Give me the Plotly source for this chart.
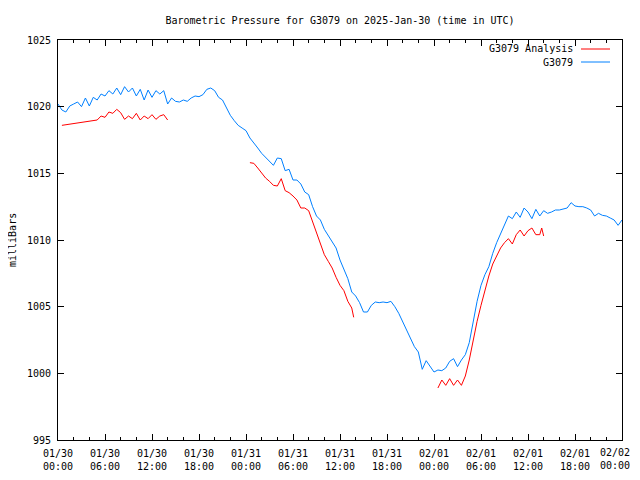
import plotly.graph_objects as go

# ---------------- data ----------------
blue_hours = [i * 0.5 for i in range(145)]
blue_values = [
    1020.2, 1019.75, 1019.6, 1020.05, 1020.2, 1020.35, 1020.0, 1020.65, 1020.05, 1020.7,
    1020.5, 1020.95, 1020.8, 1021.2, 1020.95, 1021.4, 1020.9, 1021.5, 1021.1, 1021.4,
    1020.8, 1021.3, 1020.5, 1021.25, 1020.7, 1021.2, 1020.95, 1021.2, 1020.2, 1020.65,
    1020.4, 1020.35, 1020.5, 1020.4, 1020.65, 1020.8, 1020.75, 1020.9, 1021.3, 1021.4,
    1021.2, 1020.7, 1020.5, 1019.9, 1019.35, 1018.95, 1018.6, 1018.4, 1018.2, 1017.65,
    1017.3, 1016.9, 1016.5, 1016.2, 1015.9, 1015.6, 1016.15, 1016.1, 1015.2, 1015.3,
    1014.5, 1014.5, 1014.2, 1013.6, 1013.4, 1012.5, 1011.8, 1011.5, 1010.8, 1010.3,
    1009.8, 1009.4, 1008.5, 1007.8, 1007.1, 1006.1, 1005.8, 1005.3, 1004.6, 1004.6,
    1005.1, 1005.35, 1005.3, 1005.35, 1005.3, 1005.4, 1005.0, 1004.5, 1003.9, 1003.2,
    1002.6, 1002.0, 1001.6, 1000.3, 1000.95, 1000.5, 1000.1, 1000.25, 1000.2, 1000.4,
    1000.9, 1001.1, 1000.5, 1001.0, 1001.4, 1002.3, 1003.8, 1005.4, 1006.6, 1007.4,
    1008.0, 1009.0, 1009.8, 1010.5, 1011.1, 1011.8, 1011.6, 1012.1, 1011.7, 1012.4,
    1012.1, 1011.6, 1012.3, 1011.8, 1012.2, 1012.0, 1012.1, 1012.25, 1012.25, 1012.3,
    1012.4, 1012.8, 1012.55, 1012.5, 1012.5, 1012.4, 1012.25, 1011.8, 1012.0, 1011.85,
    1011.8, 1011.65, 1011.5, 1011.1, 1011.5,
]

red_hours_1 = [0.5, 1, 1.5, 2, 2.5, 3, 3.5, 4, 4.5, 5, 5.5, 6, 6.5, 7, 7.5, 8, 8.5, 9,
               9.5, 10, 10.5, 11, 11.5, 12, 12.5, 13, 13.5, 14]
red_values_1 = [1018.6, 1018.65, 1018.7, 1018.75, 1018.8, 1018.8, 1018.85, 1018.9, 1018.95, 1019.0,
                1019.3, 1019.2, 1019.6, 1019.5, 1019.8, 1019.55, 1019.05, 1019.3, 1019.1, 1019.5,
                1019.0, 1019.3, 1019.1, 1019.4, 1019.05, 1019.3, 1019.4, 1019.0]

red_hours_2 = [24.5, 25, 25.5, 26, 26.5, 27, 27.5, 28, 28.5, 29, 29.5, 30, 30.5, 31, 31.5,
               32, 32.5, 33, 33.5, 34, 34.5, 35, 35.5, 36, 36.5, 37, 37.5, 37.75]
red_values_2 = [1015.8, 1015.75, 1015.4, 1015.0, 1014.65, 1014.4, 1014.1, 1014.05, 1014.6, 1013.7,
                1013.55, 1013.3, 1013.0, 1012.4, 1012.4, 1012.2, 1011.4, 1010.6, 1009.8, 1008.9,
                1008.4, 1007.9, 1007.2, 1006.6, 1006.2, 1005.4, 1004.9, 1004.2]

red_hours_3 = [48.5, 49, 49.5, 50, 50.5, 51, 51.5, 52, 52.5, 53, 53.5, 54, 54.5, 55, 55.5,
               56, 56.5, 57, 57.5, 58, 58.5, 59, 59.5, 60, 60.5, 61, 61.5, 61.75, 62]
red_values_3 = [998.9, 999.5, 999.1, 999.6, 999.1, 999.5, 999.1, 999.8, 1001.0, 1002.6,
                1003.9, 1005.1, 1006.3, 1007.3, 1008.2, 1008.8, 1009.4, 1009.8, 1010.1, 1009.7,
                1010.4, 1010.75, 1010.3, 1010.7, 1010.9, 1010.4, 1010.4, 1010.9, 1010.3]

x_tickvals = [0, 6, 12, 18, 24, 30, 36, 42, 48, 54, 60, 66, 72]
x_ticktext = ["01/30<br>00:00", "01/30<br>06:00", "01/30<br>12:00", "01/30<br>18:00",
              "01/31<br>00:00", "01/31<br>06:00", "01/31<br>12:00", "01/31<br>18:00",
              "02/01<br>00:00", "02/01<br>06:00", "02/01<br>12:00", "02/01<br>18:00",
              "02/02<br>00:00"]
y_tickvals = [995, 1000, 1005, 1010, 1015, 1020, 1025]

series_names = ["G3079 Analysis", "G3079"]
RED = "#ff0000"
BLUE = "#0080ff"
FONT = "DejaVu Sans Mono"

red_hours = red_hours_1 + [None] + red_hours_2 + [None] + red_hours_3
red_values = red_values_1 + [None] + red_values_2 + [None] + red_values_3

fig = go.Figure()
fig.add_trace(go.Scatter(x=blue_hours, y=blue_values, mode="lines",
                         line=dict(color=BLUE, width=1), name=series_names[1],
                         showlegend=False))
fig.add_trace(go.Scatter(x=red_hours, y=red_values, mode="lines",
                         line=dict(color=RED, width=1), name=series_names[0],
                         connectgaps=False, showlegend=False))

axis_common = dict(showline=True, linecolor="black", linewidth=1, mirror="ticks",
                   ticks="inside", ticklen=6, tickcolor="black", showgrid=False,
                   zeroline=False, automargin=False,
                   tickfont=dict(family=FONT, size=10, color="black"))

# last x label is drawn as an annotation so it stays inside the visible page
shown_ticktext = x_ticktext[:-1] + [""]
fig.update_xaxes(range=[0, 72], tickmode="array", tickvals=x_tickvals, ticktext=shown_ticktext,
                 minor=dict(ticks="inside", ticklen=3, tickcolor="black", dtick=2, tick0=0,
                            showgrid=False),
                 ticklabelstandoff=4,
                 **axis_common)
fig.update_yaxes(range=[995, 1025], tickmode="array", tickvals=y_tickvals,
                 ticklabelstandoff=4,
                 **axis_common)

fig.add_annotation(x=1, y=0, xref="paper", yref="paper", text=x_ticktext[-1],
                   showarrow=False, xanchor="right", yanchor="top", xshift=10, yshift=-5,
                   align="center", font=dict(family=FONT, size=10, color="black"))

# page offset of the figure (default body margin) is compensated in sizes below
OFF = 8
W, H = 640 - OFF, 480 - OFF
L, R, T, B = 58 - OFF, 18, 40 - OFF, 40

# y axis title
fig.add_annotation(x=(12 - 58) / 564, y=0.5, xref="paper", yref="paper", text="milliBars",
                   textangle=-90, showarrow=False, xanchor="center", yanchor="middle",
                   font=dict(family=FONT, size=10, color="black"))

# legend (drawn manually, gnuplot style)
leg_y = [(440 - 49) / 400, (440 - 62) / 400]
for name, col, yy in zip(series_names, [RED, BLUE], leg_y):
    fig.add_annotation(x=(575 - 58) / 564, y=yy, xref="paper", yref="paper", text=name,
                       showarrow=False, xanchor="right", yanchor="middle",
                       font=dict(family=FONT, size=10, color="black"))
    fig.add_shape(type="line", xref="paper", yref="paper", x0=(581 - 58) / 564,
                  x1=(610 - 58) / 564, y0=yy, y1=yy, line=dict(color=col, width=1))

fig.update_layout(
    width=W, height=H,
    margin=dict(l=L, r=R, t=T, b=B, autoexpand=False),
    paper_bgcolor="white", plot_bgcolor="white",
    title=dict(text="Barometric Pressure for G3079 on 2025-Jan-30 (time in UTC)",
               x=0.5, xref="paper", y=1 - (20 - OFF) / H, yref="container", yanchor="middle",
               font=dict(family=FONT, size=10, color="black")),
    showlegend=False,
)

fig.write_html("out.html")
